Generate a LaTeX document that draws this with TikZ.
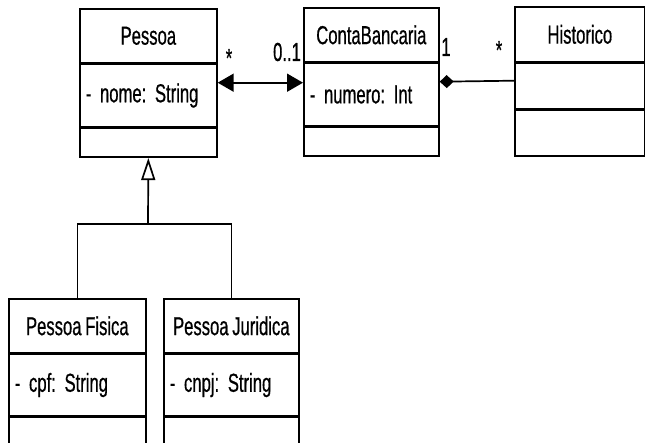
\documentclass[tikz,border=0pt]{standalone}
\usepackage{fontspec}
\setmainfont{Liberation Sans}[FakeStretch=0.64, WordSpace=0.8, FakeBold=0.6]
\usetikzlibrary{arrows.meta}
\tikzset{
  ln/.style={line width=1.7pt},
  comp/.style={draw, ln, inner sep=0pt, anchor=north west, font=\fontsize{26}{28}\selectfont\frenchspacing},
  attrc/.style={comp, inner xsep=6pt, align=left},
  lbl/.style={inner sep=0pt, font=\fontsize{26}{28}\selectfont},
  assoc/.style={ln, {Triangle[length=16pt,width=18pt]}-{Triangle[length=16pt,width=18pt]}},
  compo/.style={ln, {Diamond[length=14pt,width=13pt]}-},
  gener/.style={ln, -{Triangle[open,length=22pt,width=14pt]}}
}
\begin{document}
\begin{tikzpicture}[x=1pt,y=-1pt]
\useasboundingbox (0,0) rectangle (645,443);
\clip (0,0) rectangle (645,443);
% Pessoa
\node[comp, minimum width=137pt, minimum height=54pt] (pT) at (79,8) {Pessoa};
\node[attrc, text width=125pt, minimum height=62pt] (pA) at (pT.south west) {- nome: String};
\node[comp, minimum width=137pt, minimum height=29pt] (pO) at (pA.south west) {};
% ContaBancaria
\node[comp, minimum width=135pt, minimum height=54pt] (cT) at (303,7) {ContaBancaria};
\node[attrc, text width=123pt, minimum height=62pt] (cA) at (cT.south west) {- numero: Int};
\node[comp, minimum width=135pt, minimum height=29pt] (cO) at (cA.south west) {};
% Historico
\node[comp, minimum width=130pt, minimum height=55pt] (hT) at (514,6) {Historico};
\node[comp, minimum width=130pt, minimum height=45pt] (hA) at (hT.south west) {};
\node[comp, minimum width=130pt, minimum height=46pt] (hO) at (hA.south west) {};
% Pessoa Fisica
\node[comp, minimum width=137pt, minimum height=54pt] (fT) at (8,298) {Pessoa Fisica};
\node[attrc, text width=125pt, minimum height=61pt] (fA) at (fT.south west) {- cpf: String};
\node[comp, minimum width=137pt, minimum height=50pt] (fO) at (fA.south west) {};
% Pessoa Juridica
\node[comp, minimum width=135pt, minimum height=54pt] (jT) at (163,298) {Pessoa Juridica};
\node[attrc, text width=123pt, minimum height=61pt] (jA) at (jT.south west) {- cnpj: String};
\node[comp, minimum width=135pt, minimum height=50pt] (jO) at (jA.south west) {};
% association Pessoa <-> ContaBancaria
\draw[assoc] ([yshift=-19pt]pA.north east) -- ([yshift=-20pt]cA.north west);
\node[lbl] (m1) at (229,58) {*};
\node[lbl] (m2) at (287,52) {0..1};
% composition ContaBancaria <-> Historico
\draw[compo] ([yshift=-19pt]cA.north east) -- ([yshift=-18pt]hA.north west);
\node[lbl] (m3) at (446,47) {1};
\node[lbl] (m4) at (499,50) {*};
% generalization
\coordinate (gj) at (148,224);
\draw[ln] (fT.north) |- (gj) -| (jT.north);
\draw[gener] (gj) -- (pO.south);
\end{tikzpicture}
\end{document}
